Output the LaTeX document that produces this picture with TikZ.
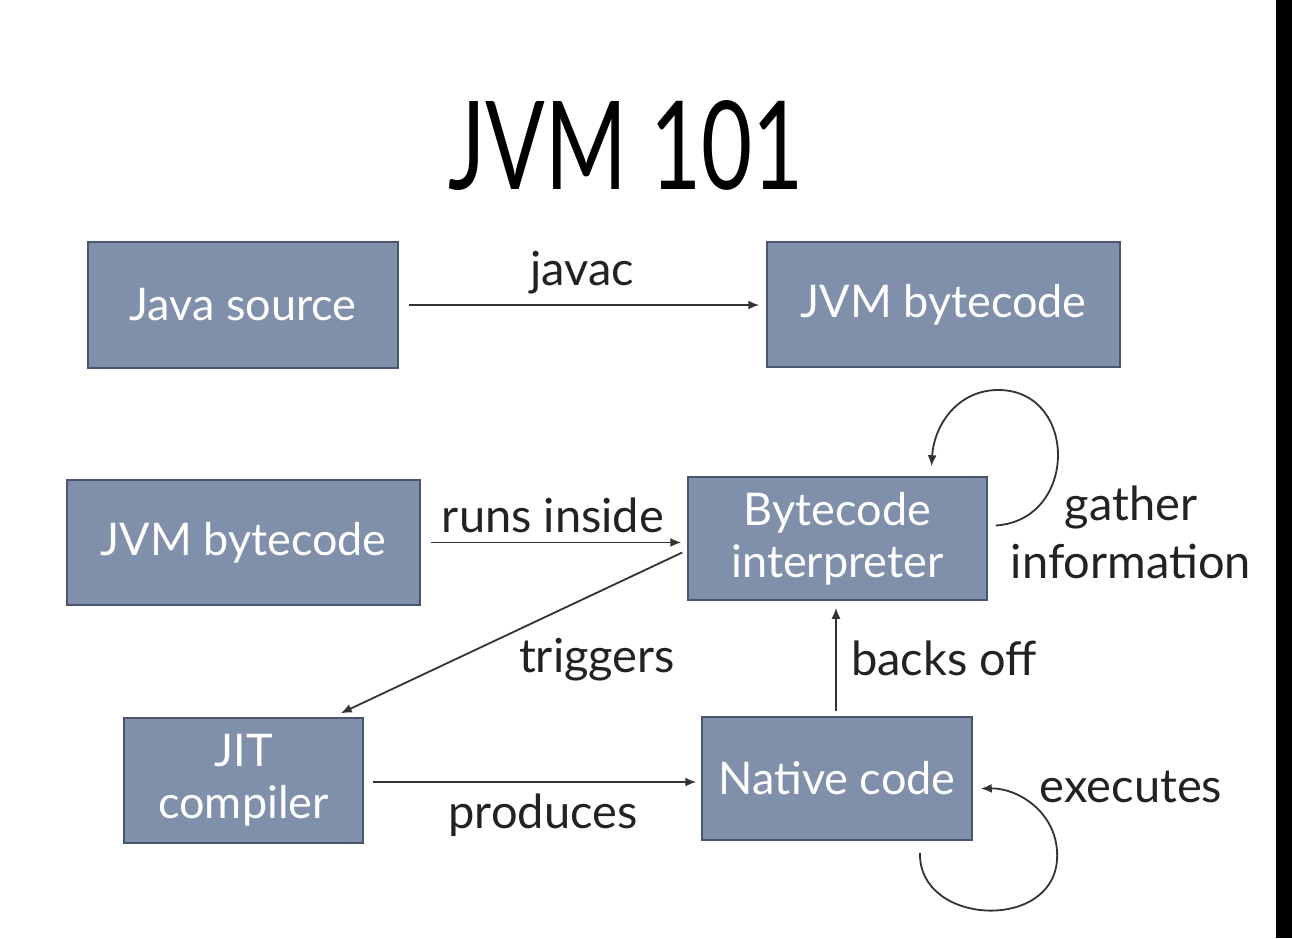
\documentclass[tikz,border=0pt]{standalone}
\usepackage{fontspec}
\setmainfont{Lato}
\usetikzlibrary{arrows.meta,calc}
\definecolor{boxfill}{HTML}{8090AA}
\definecolor{boxline}{HTML}{4A5670}
\definecolor{arrowc}{HTML}{333333}
\definecolor{labelc}{HTML}{222222}
\tikzset{
  stagebox/.style={draw=boxline, line width=1.5pt, fill=boxfill, text=white, font=\fontsize{45}{52}\selectfont, align=center, inner sep=0pt},
  flow/.style={draw=arrowc, line width=1.8pt, -{Latex[length=11pt,width=9pt]}},
  lbl/.style={text=labelc, font=\fontsize{47}{58}\selectfont, align=center, inner sep=0pt},
}
\begin{document}
\begin{tikzpicture}[x=1pt,y=-1pt]
\useasboundingbox (0,0) rectangle (1292,938);
\fill[white] (0,0) rectangle (1292,938);
\fill[black] (1276,0) rectangle (1292,938);
\node[text=black, font=\fontsize{105}{110}\selectfont, inner sep=0pt] (title) at (626,145) {\scalebox{0.84}[1.17]{JVM 101}};
\node[stagebox, minimum width=310pt, minimum height=126pt] (js) at (243,305) {Java source};
\node[stagebox, minimum width=353pt, minimum height=125pt] (jb1) at (943.5,304.5) {JVM bytecode};
\node[stagebox, minimum width=353pt, minimum height=125pt] (jb2) at (243.5,542.5) {JVM bytecode};
\node[stagebox, minimum width=299pt, minimum height=123pt] (bi) at (837.5,538.5) {Bytecode\\interpreter};
\node[stagebox, minimum width=239pt, minimum height=125pt] (jit) at (243.5,780.5) {JIT\\compiler};
\node[stagebox, minimum width=270pt, minimum height=123pt] (nc) at (837,778.5) {Native code};
\draw[flow, shorten <=10pt, shorten >=7pt] (js.east) -- (jb1.west |- js.east);
\node[lbl] (ljavac) at (582,273) {javac};
\draw[flow, shorten <=10pt, shorten >=6pt] (jb2.east) -- (bi.west |- jb2.east);
\node[lbl] (lruns) at (553,515) {runs inside};
\coordinate (tstart) at ($(bi.west)+(-5,14)$);
\coordinate (tend) at ($(jit.north east)+(-23,-4)$);
\draw[flow] (tstart) -- (tend);
\node[lbl] (ltrig) at (597,660) {triggers};
\draw[flow, shorten <=9pt, shorten >=5pt] (jit.east |- 0,782) -- (nc.west |- 0,782);
\node[lbl] (lprod) at (543,815) {produces};
\draw[flow, shorten <=5pt, shorten >=7pt] (nc.north -| 836,0) -- (bi.south -| 836,0);
\node[lbl] (lback) at (944,658) {backs off};
\coordinate (gs) at ($(bi.east)+(8,-13)$);
\coordinate (ge) at ($(bi.north)+(94,-10)$);
\draw[flow] (gs) .. controls (1078,520) and (1078,392) .. (1000,390) .. controls (958,389) and (934,425) .. (ge);
\node[lbl] (lgather) at (1131,532) {gather\\information};
\coordinate (es) at ($(nc.south)+(83,12)$);
\coordinate (ee) at ($(nc.east)+(8,10)$);
\draw[flow] (es) .. controls (918,925) and (1052,932) .. (1057,860) .. controls (1060,815) and (1020,788) .. (ee);
\node[lbl] (lexec) at (1131,787) {executes};
\end{tikzpicture}
\end{document}
